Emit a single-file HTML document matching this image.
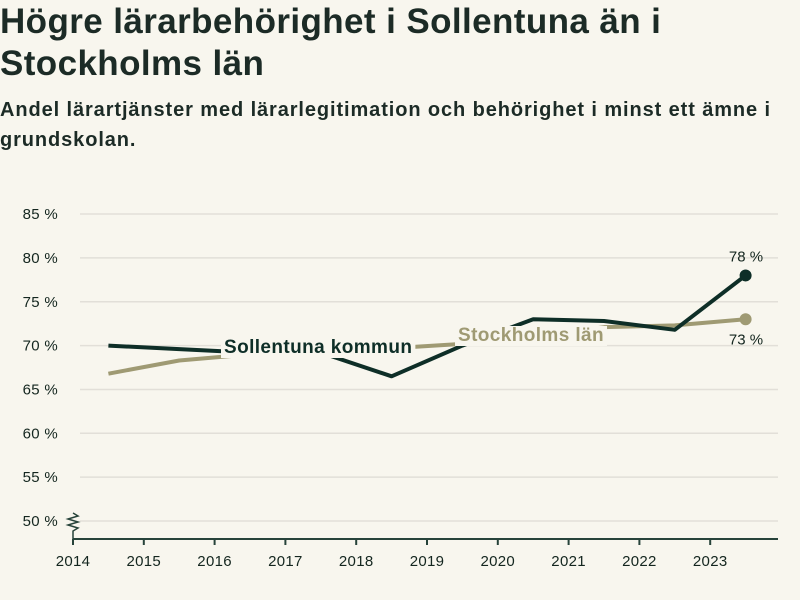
<!DOCTYPE html>
<html><head><meta charset="utf-8"><style>
body{margin:0;width:800px;height:600px;background:#f8f6ee;font-family:"Liberation Sans",sans-serif;color:#1c2b26;overflow:hidden}
h1{position:absolute;left:0;top:1px;margin:0;font-size:35px;line-height:42px;font-weight:bold;letter-spacing:0.4px}
h2{position:absolute;left:0;top:95px;margin:0;font-size:20px;line-height:30px;font-weight:bold;letter-spacing:0.9px}
svg{position:absolute;left:0;top:0}
</style></head><body>
<h1>Högre lärarbehörighet i Sollentuna än i<br>Stockholms län</h1>
<h2>Andel lärartjänster med lärarlegitimation och behörighet i minst ett ämne i<br>grundskolan.</h2>
<svg width="800" height="600" id="chart"></svg>
<script>
const years=[2014,2015,2016,2017,2018,2019,2020,2021,2022,2023];
const yTicks=[50,55,60,65,70,75,80,85];
const sollentuna=[70,69.6,69.2,69.2,66.5,70,73,72.8,71.8,78];
const stockholm=[66.8,68.3,69,69.4,69.7,70.2,71,72.1,72.3,73];
const NS="http://www.w3.org/2000/svg",svg=document.getElementById('chart');
const x=v=>73+(v-2014)*70.8;
const y=v=>521-(v-50)*8.77;
function el(t,a,p){const e=document.createElementNS(NS,t);for(const k in a)e.setAttribute(k,a[k]);(p||svg).appendChild(e);return e;}
yTicks.forEach(t=>{
 const g=el('line',{x1:80,x2:778,y1:y(t),y2:y(t),stroke:'#e2dfd8','stroke-width':1.5});
 
 
 const l=el('text',{x:58,y:y(t)+5,'text-anchor':'end','font-size':15,fill:'#14261f','letter-spacing':0.3});l.textContent=t+' %';
 
 
});
const ax=el('line',{x1:73,x2:778,y1:539,y2:539,stroke:'#27433a','stroke-width':2});


const br=el('path',{d:'M73,513 l5,3 l-10,3 l10,3 l-10,3 l10,3 l-5,3 v10',fill:'none',stroke:'#27433a','stroke-width':1.5});


years.forEach(t=>{
 el('line',{x1:x(t),x2:x(t),y1:539,y2:545,stroke:'#27433a','stroke-width':2});
 const l=el('text',{x:x(t),y:566,'text-anchor':'middle','font-size':15,fill:'#14261f','letter-spacing':0.3});l.textContent=t;
 
 
});
function series(d,c,name){
 const p=el('polyline',{points:d.map((v,i)=>x(years[i]+0.5)+','+y(v)).join(' '),fill:'none',stroke:c,'stroke-width':4,'stroke-linejoin':'round'});
 
 
 const n=d.length-1;
 const c2=el('circle',{cx:x(years[n]+0.5),cy:y(d[n]),r:6,fill:c});
 
 
}
series(stockholm,'#9f9a73','stockholm');
series(sollentuna,'#0e2e27','sollentuna');
function label(txt,xx,yy,c,name){
 const r=el('rect',{x:xx-3,y:yy-15,width:10,height:20,fill:'#f8f6ee'});
 const t=el('text',{x:xx,y:yy,'font-size':19,fill:c,'font-weight':'bold','letter-spacing':0.4});t.textContent=txt;
 
 
 r.setAttribute('width',t.getBBox().width+6);
}
label('Sollentuna kommun',224,353,'#0e2e27','sollentuna-label');
label('Stockholms län',458,341,'#9f9a73','stockholm-label');
const v1=el('text',{x:746,y:y(78)-14,'text-anchor':'middle','font-size':15,fill:'#14261f'});v1.textContent=sollentuna[9]+' %';


const v2=el('text',{x:746,y:y(73)+25,'text-anchor':'middle','font-size':15,fill:'#14261f'});v2.textContent=stockholm[9]+' %';


</script>
</body></html>
